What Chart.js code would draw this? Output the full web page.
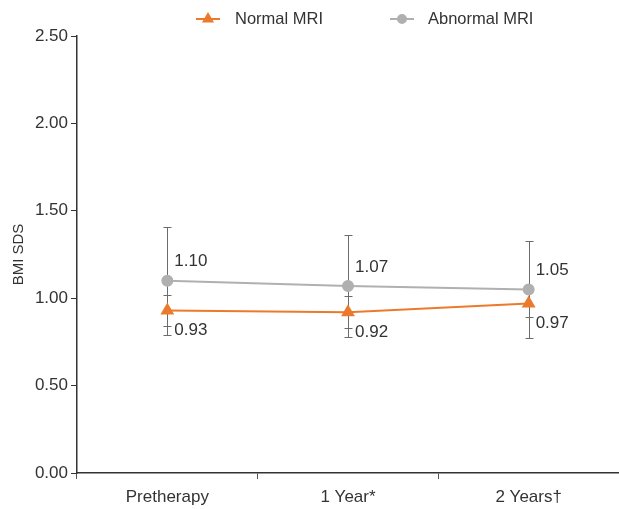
<!DOCTYPE html>
<html>
<head>
<meta charset="utf-8">
<script src="https://cdn.jsdelivr.net/npm/chart.js@4.4.0/dist/chart.umd.min.js"></script>
<style>
body { margin: 0; background: #fff; }
</style>
</head>
<body>
<canvas id="bmi_chart" width="619" height="509"></canvas>
<script>
// categories and values
const categories = ['Pretherapy', '1 Year*', '2 Years\u2020'];
const normalMri = [0.93, 0.92, 0.97];
const normalSd = [0.09, 0.09, 0.08];
const abnormalMri = [1.10, 1.07, 1.05];
const abnormalSd = [0.31, 0.29, 0.28];
const yTicks = [0, 0.5, 1, 1.5, 2, 2.5];

const FONT = 'Liberation Sans, Arial, sans-serif';
const TEXT = '#333333';

// vertical SD bars, drawn under the lines
const errorBars = {
    id: 'errorBars',
    beforeDatasetsDraw(chart) {
        const ctx = chart.ctx;
        const y = chart.scales.y;
        chart.data.datasets.forEach((ds, i) => {
            const meta = chart.getDatasetMeta(i);
            meta.data.forEach((pt, j) => {
                const sd = ds.sd[j];
                if (!sd) return;
                const x = Math.round(pt.x) + 0.5;
                const top = Math.round(y.getPixelForValue(ds.data[j] + sd)) + 0.5;
                const bot = Math.round(y.getPixelForValue(ds.data[j] - sd)) + 0.5;
                ctx.save();
                ctx.strokeStyle = '#6b6b6b';
                ctx.lineWidth = 1;
                ctx.beginPath();
                ctx.moveTo(x, top); ctx.lineTo(x, bot);
                ctx.moveTo(x - 4, top); ctx.lineTo(x + 4, top);
                ctx.moveTo(x - 4, bot); ctx.lineTo(x + 4, bot);
                ctx.stroke();
                ctx.restore();
            });
        });
    }
};

// the number next to each point
const valueLabels = {
    id: 'valueLabels',
    afterDatasetsDraw(chart) {
        const ctx = chart.ctx;
        ctx.save();
        ctx.font = '17px ' + FONT;
        ctx.fillStyle = TEXT;
        ctx.textAlign = 'left';
        ctx.textBaseline = 'middle';
        chart.data.datasets.forEach((ds, i) => {
            chart.getDatasetMeta(i).data.forEach((pt, j) => {
                ctx.fillText(ds.data[j].toFixed(2), pt.x + 7, pt.y + ds.labelShift);
            });
        });
        ctx.restore();
    }
};

// legend with a short line through the marker
const lineLegend = {
    id: 'lineLegend',
    afterDraw(chart) {
        const ctx = chart.ctx;
        const spots = [{ x: 196, tx: 235 }, { x: 390, tx: 428 }];
        const yy = 19;
        chart.data.datasets.forEach((ds, i) => {
            const s = spots[i];
            ctx.save();
            ctx.strokeStyle = ds.borderColor;
            ctx.lineWidth = 2;
            ctx.beginPath();
            ctx.moveTo(s.x, yy); ctx.lineTo(s.x + 24, yy);
            ctx.stroke();
            ctx.fillStyle = ds.borderColor;
            Chart.helpers.drawPoint(ctx, {
                pointStyle: ds.pointStyle,
                radius: ds.pointRadius - 1,
                borderWidth: 1
            }, s.x + 12, yy);
            ctx.fillStyle = TEXT;
            ctx.font = '16.5px ' + FONT;
            ctx.textBaseline = 'middle';
            ctx.fillText(ds.label, s.tx, yy);
            ctx.restore();
        });
    }
};

const data = {
    labels: categories,
    datasets: [{
        label: 'Normal MRI',
        data: normalMri,
        sd: normalSd,
        labelShift: 20,
        borderColor: '#ec7a2c',
        backgroundColor: '#ec7a2c',
        pointStyle: 'triangle',
        pointRadius: 6,
        borderWidth: 2
    }, {
        label: 'Abnormal MRI',
        data: abnormalMri,
        sd: abnormalSd,
        labelShift: -19,
        borderColor: '#b0b0b0',
        backgroundColor: '#b0b0b0',
        pointStyle: 'circle',
        pointRadius: 5,
        borderWidth: 2
    }]
};

const config = {
    type: 'line',
    data: data,
    options: {
        responsive: false,
        animation: false,
        layout: { autoPadding: false, padding: { top: 36, right: 0, left: 0, bottom: 0 } },
        plugins: {
            legend: { display: false },
            tooltip: { enabled: false }
        },
        scales: {
            x: {
                offset: true,
                afterFit(scale) { scale.height = 36; },
                grid: { offset: true, drawOnChartArea: false, tickLength: 6, color: '#555' },
                border: { color: '#333', width: 1.5 },
                ticks: { color: TEXT, font: { family: FONT, size: 17 }, padding: 8 }
            },
            y: {
                min: 0,
                max: 2.5,
                afterBuildTicks(scale) {
                    scale.ticks = yTicks.map(v => ({ value: v }));
                },
                afterFit(scale) { scale.width = 77; },
                grid: { drawOnChartArea: false, tickLength: 6, color: '#333' },
                border: { color: '#333', width: 1.5 },
                ticks: {
                    color: TEXT,
                    font: { family: FONT, size: 17 },
                    padding: 3,
                    callback: v => Number(v).toFixed(2)
                },
                title: {
                    display: true,
                    text: 'BMI SDS',
                    color: TEXT,
                    font: { family: FONT, size: 15 },
                    padding: { top: 10, bottom: 0 }
                }
            }
        }
    },
    plugins: [errorBars, valueLabels, lineLegend]
};

const bmiChart = new Chart(document.getElementById('bmi_chart'), config);
</script>
</body>
</html>
